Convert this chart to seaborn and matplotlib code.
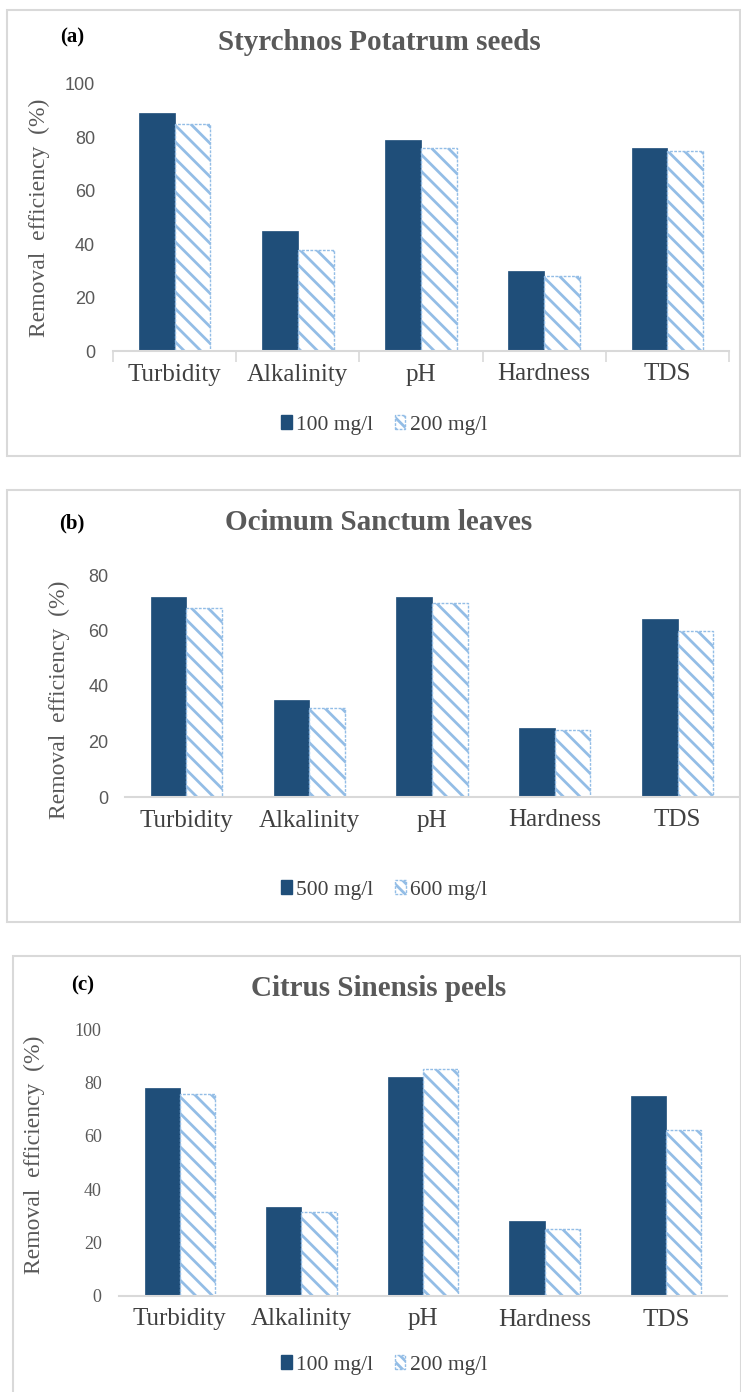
import matplotlib
matplotlib.use("Agg")
import matplotlib.pyplot as plt
import seaborn as sns
import pandas as pd
from matplotlib.patches import Patch, Rectangle

categories = ["Turbidity", "Alkalinity", "pH", "Hardness", "TDS"]

# (a) Styrchnos Potatrum seeds
a_title = "Styrchnos Potatrum seeds"
a_doses = ["100 mg/l", "200 mg/l"]
a_low = [89, 45, 79, 30, 76]
a_high = [85, 38, 76, 28, 75]

# (b) Ocimum Sanctum leaves
b_title = "Ocimum Sanctum leaves"
b_doses = ["500 mg/l", "600 mg/l"]
b_low = [72, 35, 72, 25, 64]
b_high = [68, 32, 70, 24, 60]

# (c) Citrus Sinensis peels
c_title = "Citrus Sinensis peels"
c_doses = ["100 mg/l", "200 mg/l"]
c_low = [78, 33.5, 82, 28, 75]
c_high = [75.5, 31.5, 85, 25, 62]

DARK = "#1f4e79"
LIGHT = "#93bde6"
GRAY = "#595959"
TEXT = "#404040"
LINE = "#d9d9d9"
SERIF = ["Liberation Serif", "DejaVu Serif"]
SANS = ["Liberation Sans", "DejaVu Sans"]

sns.set_theme(style="white")
plt.rcParams["font.family"] = SERIF
plt.rcParams["hatch.linewidth"] = 2.0

fig = plt.figure(figsize=(7.41, 13.92), dpi=100)
H = 1392.0
W = 741.0


def px(x, y):
    return x / W, 1 - y / H


def panel(box, axbox, ymax, tag, tagpos, title, titlepos, doses, low, high,
          legpos, ylab, tickfont, ypad, minor_ticks):
    # border of the panel
    x0, y0, x1, y1 = box
    fig.patches.append(Rectangle(px(x0, y1), (x1 - x0) / W, (y1 - y0) / H,
                                 transform=fig.transFigure, fill=False,
                                 edgecolor=LINE, linewidth=1.5))
    l, r, b, t = axbox
    ax = fig.add_axes([l / W, 1 - b / H, (r - l) / W, (b - t) / H])
    d = pd.DataFrame({"param": categories * 2,
                      "dose": [doses[0]] * 5 + [doses[1]] * 5,
                      "value": low + high})
    sns.barplot(data=d, x="param", y="value", hue="dose", ax=ax,
                palette=[DARK, "white"], width=0.58, legend=False,
                saturation=1)
    for p in ax.containers[0]:
        p.set_edgecolor(DARK)
        p.set_linewidth(0.5)
    for p in ax.containers[1]:
        p.set_facecolor("white")
        p.set_edgecolor(LIGHT)
        p.set_hatch("\\\\")
        p.set_linestyle((0, (2, 1)))
        p.set_linewidth(1.0)
    ax.set_ylim(0, ymax)
    ax.set_xlim(-0.5, 4.5)
    ax.set_yticks(range(0, ymax + 1, 20))
    ax.tick_params(axis="y", length=0, labelsize=13, labelcolor=GRAY,
                   pad=ypad)
    for lab in ax.get_yticklabels():
        lab.set_family(tickfont)
    ax.tick_params(axis="x", length=0, labelsize=18, labelcolor=TEXT,
                   pad=9)
    if minor_ticks:
        ax.set_xticks([-0.5, 0.5, 1.5, 2.5, 3.5, 4.5], minor=True)
        ax.tick_params(axis="x", which="minor", length=8, color=LINE,
                       width=1.2, bottom=True)
    for s in ["top", "right", "left"]:
        ax.spines[s].set_visible(False)
    ax.spines["bottom"].set_color(LINE)
    ax.spines["bottom"].set_linewidth(1.5)
    ax.set_xlabel("")
    ax.set_ylabel("Removal  efficiency  (%)", fontsize=17, color=GRAY)
    ax.yaxis.set_label_coords(*ylab)
    fig.text(*px(*titlepos), title, ha="center", va="center", fontsize=21,
             fontweight="bold", color=GRAY)
    fig.text(*px(*tagpos), tag, ha="center", va="center", fontsize=15,
             fontweight="bold", color="black")
    handles = [Patch(facecolor=DARK, edgecolor=DARK, label=doses[0]),
               Patch(facecolor="white", edgecolor=LIGHT, hatch="\\\\\\",
                     linestyle=(0, (2, 1)), label=doses[1])]
    fig.legend(handles=handles, loc="center", bbox_to_anchor=px(*legpos),
               ncol=2, frameon=False, fontsize=15.5, handlelength=0.5,
               handleheight=0.6, handletextpad=0.2, columnspacing=1.0,
               labelcolor=TEXT)
    return ax


panel((7, 10, 740, 456), (113, 729, 351, 84), 100, "(a)", (72, 37),
      a_title, (379, 43), a_doses, a_low, a_high, (384, 425),
      (-0.102, 0.50), SANS, 13, True)
panel((7, 490, 740, 922), (125, 739, 797, 575), 80, "(b)", (72, 523),
      b_title, (379, 523), b_doses, b_low, b_high, (384, 890),
      (-0.089, 0.44), SANS, 12, False)
panel((13, 956, 741, 1396), (119, 727, 1296, 1029), 100, "(c)", (83, 985),
      c_title, (379, 988), c_doses, c_low, c_high, (384, 1365),
      (-0.122, 0.53), SERIF, 12.5, False)

fig.savefig("out.png", dpi=100, facecolor="white")
